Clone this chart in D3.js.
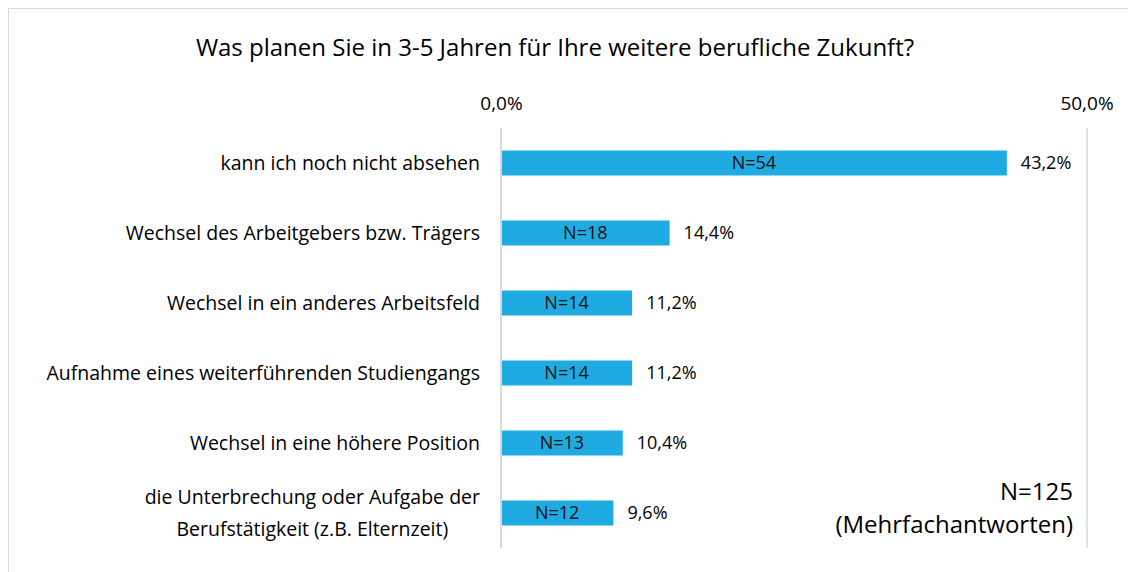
<!DOCTYPE html>
<html>
<head>
<meta charset="utf-8">
<script src="https://cdn.jsdelivr.net/npm/d3@7"></script>
<style>
  body { margin: 0; background: #fff; }
  text { font-family: "Open Sans", sans-serif; fill: #000; }
</style>
</head>
<body>
<div id="chart"></div>
<script>
// chart data
const categories = [
  ['kann ich noch nicht absehen'],
  ['Wechsel des Arbeitgebers bzw. Trägers'],
  ['Wechsel in ein anderes Arbeitsfeld'],
  ['Aufnahme eines weiterführenden Studiengangs'],
  ['Wechsel in eine höhere Position'],
  ['die Unterbrechung oder Aufgabe der', 'Berufstätigkeit (z.B. Elternzeit)']
]
const percents = [43.2, 14.4, 11.2, 11.2, 10.4, 9.6]
const counts = [54, 18, 14, 14, 13, 12]
const tickValues = [0, 50]
const title = 'Was planen Sie in 3-5 Jahren für Ihre weitere berufliche Zukunft?'
const note = ['N=125', '(Mehrfachantworten)']

const width = 1128,
  height = 572
const plot = { left: 501, right: 1086.5, top: 128, bottom: 548 }
const labelSize = 19.5

const svg = d3.select('#chart')
  .append('svg')
  .attr('width', width)
  .attr('height', height)

// outer frame (only top and left are visible)
svg.append('path')
  .attr('d', `M8.5,${height} V8.5 H${width}`)
  .attr('fill', 'none')
  .attr('stroke', '#d9d9d9')

const x = d3.scaleLinear()
  .domain([0, 50])
  .range([plot.left, plot.right])

const y = d3.scaleBand()
  .domain(d3.range(categories.length))
  .range([plot.top, plot.bottom])
  .paddingInner(0.643)
  .paddingOuter(0.3215)

const fmt = v => d3.format('.1f')(v).replace('.', ',') + '%'

svg.append('text')
  .attr('x', 555)
  .attr('y', 56)
  .attr('text-anchor', 'middle')
  .style('font-size', '24px')
  .text(title)

// gridline at 50%
svg.selectAll('.grid')
  .data(tickValues.slice(1))
  .enter()
  .append('line')
  .attr('x1', d => x(d) + 0.5)
  .attr('x2', d => x(d) + 0.5)
  .attr('y1', plot.top)
  .attr('y2', plot.bottom)
  .attr('stroke', '#d9d9d9')
  .attr('stroke-width', 1.5)

// top axis labels
svg.append('g')
  .attr('transform', `translate(0, ${plot.top - 15})`)
  .call(d3.axisTop(x).tickValues(tickValues).tickSize(0).tickFormat(fmt))
  .call(g => g.select('.domain').remove())
  .call(g => g.selectAll('text')
    .style('font-size', '19px')
    .style('font-family', '"Open Sans", sans-serif')
    .attr('fill', '#000'))

// bars
svg.selectAll('rect.bar')
  .data(percents)
  .enter()
  .append('rect')
  .attr('class', 'bar')
  .attr('x', x(0))
  .attr('y', (d, i) => y(i))
  .attr('width', d => x(d) - x(0))
  .attr('height', y.bandwidth())
  .attr('fill', '#1fabe2')

// zero axis line
svg.append('line')
  .attr('x1', x(0))
  .attr('x2', x(0))
  .attr('y1', plot.top)
  .attr('y2', plot.bottom)
  .attr('stroke', '#d9d9d9')
  .attr('stroke-width', 2)

// N labels inside bars
svg.selectAll('text.count')
  .data(counts)
  .enter()
  .append('text')
  .attr('class', 'count')
  .attr('x', (d, i) => (x(0) + x(percents[i])) / 2)
  .attr('y', (d, i) => y(i) + y.bandwidth() / 2)
  .attr('dy', '0.36em')
  .attr('text-anchor', 'middle')
  .style('font-size', '18px')
  .style('fill', '#111')
  .text(d => 'N=' + d)

// percent labels after bars
svg.selectAll('text.pct')
  .data(percents)
  .enter()
  .append('text')
  .attr('class', 'pct')
  .attr('x', d => x(d) + 14)
  .attr('y', (d, i) => y(i) + y.bandwidth() / 2)
  .attr('dy', '0.36em')
  .style('font-size', '18px')
  .text(fmt)

// category labels
const cat = svg.selectAll('text.cat')
  .data(categories)
  .enter()
  .append('text')
  .attr('class', 'cat')
  .attr('text-anchor', 'middle')
  .style('font-size', labelSize + 'px')

cat.each(function (lines, i) {
  const t = d3.select(this)
  const cy = y(i) + y.bandwidth() / 2
  const lh = 32
  lines.forEach((l, j) => {
    t.append('tspan')
      .attr('x', 0)
      .attr('y', cy + (j - (lines.length - 1) / 2) * lh)
      .attr('dy', '0.36em')
      .text(l)
  })
})
// block is right aligned at 480, lines centered inside it
cat.each(function () {
  const w = this.getBBox().width
  d3.select(this).attr('transform', `translate(${480 - w / 2}, 0)`)
})

// footnote
svg.selectAll('text.note')
  .data(note)
  .enter()
  .append('text')
  .attr('class', 'note')
  .attr('x', 1073)
  .attr('y', (d, i) => 500 + i * 33)
  .attr('text-anchor', 'end')
  .style('font-size', '24px')
  .text(d => d)
</script>
</body>
</html>
